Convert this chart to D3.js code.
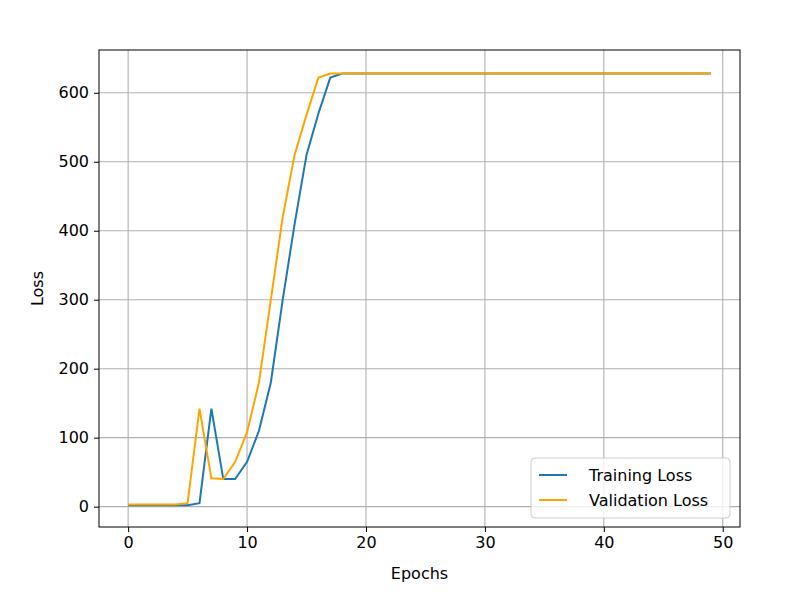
<!DOCTYPE html>
<html>
<head>
<meta charset="utf-8">
<script src="https://cdn.jsdelivr.net/npm/d3@7"></script>
<style>
  body { margin: 0; background: white; }
  text { font-family: "DejaVu Sans", sans-serif; }
</style>
</head>
<body>
<div id="chart"></div>
<script>
// epochs 0..49, values
const trainHead = [2, 2, 2, 2, 2, 2, 5, 142, 40, 40, 65, 110, 180, 300, 410, 510, 570, 622, 628];
const valHead = [3, 3, 3, 3, 3, 5, 142, 41, 40, 65, 108, 180, 300, 420, 510, 568, 622, 628, 628];
const plateau = 628;
const nEpochs = 50;
const trainLoss = d3.range(nEpochs).map(i => i < trainHead.length ? trainHead[i] : plateau);
const valLoss = d3.range(nEpochs).map(i => i < valHead.length ? valHead[i] : plateau);
const xTicks = [0, 10, 20, 30, 40, 50];
const yTicks = [0, 100, 200, 300, 400, 500, 600];

const width = 800, height = 594;
const margin = { left: 99, right: 60, top: 50, bottom: 67 };
const fs = 16;

const svg = d3.select("#chart").append("svg")
    .attr("width", width)
    .attr("height", height);

const x = d3.scaleLinear().domain([-2.45, 51.45]).range([margin.left, width - margin.right]);
const y = d3.scaleLinear().domain([-29.5, 662]).range([height - margin.bottom, margin.top]);

// grid
svg.append("g").selectAll("line").data(xTicks).join("line")
    .attr("x1", d => x(d)).attr("x2", d => x(d))
    .attr("y1", margin.top).attr("y2", height - margin.bottom)
    .attr("stroke", "#b0b0b0").attr("stroke-width", 1.1);
svg.append("g").selectAll("line").data(yTicks).join("line")
    .attr("y1", d => y(d)).attr("y2", d => y(d))
    .attr("x1", margin.left).attr("x2", width - margin.right)
    .attr("stroke", "#b0b0b0").attr("stroke-width", 1.1);

const line = d3.line().x((d, i) => x(i)).y(d => y(d));
svg.append("path").datum(trainLoss).attr("d", line)
    .attr("fill", "none").attr("stroke", "#1f77b4").attr("stroke-width", 2);
svg.append("path").datum(valLoss).attr("d", line)
    .attr("fill", "none").attr("stroke", "orange").attr("stroke-width", 2);

// axes
const xAxis = svg.append("g").attr("transform", `translate(0,${height - margin.bottom})`)
    .call(d3.axisBottom(x).tickValues(xTicks).tickSize(5).tickPadding(5));
const yAxis = svg.append("g").attr("transform", `translate(${margin.left},0)`)
    .call(d3.axisLeft(y).tickValues(yTicks).tickSize(5).tickPadding(5));
[xAxis, yAxis].forEach(a => {
    a.selectAll("text").attr("font-size", fs).attr("font-family", "DejaVu Sans").attr("fill", "black");
    a.select(".domain").remove();
});

svg.append("rect")
    .attr("x", margin.left).attr("y", margin.top)
    .attr("width", width - margin.left - margin.right)
    .attr("height", height - margin.bottom - margin.top)
    .attr("fill", "none").attr("stroke", "black").attr("stroke-width", 1);

svg.append("text").attr("x", (margin.left + width - margin.right) / 2).attr("y", 579)
    .attr("text-anchor", "middle").attr("font-size", fs).text("Epochs");
svg.append("text").attr("transform", `translate(43,${(margin.top + height - margin.bottom) / 2}) rotate(-90)`)
    .attr("text-anchor", "middle").attr("font-size", fs).text("Loss");

// legend
const lg = svg.append("g").attr("transform", "translate(531,458)");
lg.append("rect").attr("width", 199).attr("height", 60).attr("rx", 4)
    .attr("fill", "white").attr("fill-opacity", 0.8).attr("stroke", "#cccccc");
const items = [["Training Loss", "#1f77b4"], ["Validation Loss", "orange"]];
items.forEach(([name, c], i) => {
    const yy = 17 + i * 25;
    lg.append("line").attr("x1", 8).attr("x2", 36).attr("y1", yy).attr("y2", yy)
        .attr("stroke", c).attr("stroke-width", 2);
    lg.append("text").attr("x", 58).attr("y", yy + 6).attr("font-size", fs).text(name);
});
</script>
</body>
</html>
